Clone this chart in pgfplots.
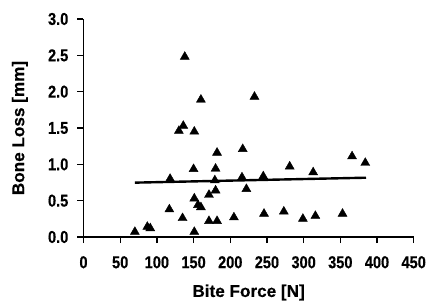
\documentclass[border=0pt]{standalone}
\usepackage{fontspec}
\setmainfont{Liberation Sans}[BoldFeatures={FakeBold=0.4}]
\newfontfamily\condfont{Liberation Sans}[FakeStretch=0.85, BoldFeatures={FakeBold=0.4}]
\usepackage{pgfplots}
\pgfplotsset{compat=1.18}
\begin{document}
\begin{tikzpicture}
\begin{axis}[name=ax, scale only axis, width=330.2bp, height=218bp,
  xmin=0, xmax=450, ymin=0, ymax=3,
  axis lines=left, axis line style={line width=1.8bp, -},
  xtick={0,50,...,450}, ytick={0,0.5,...,3},
  tick style={line width=1.3bp, black},
  major tick length=6bp, tick align=outside,
  /pgf/number format/assume math mode=true,
  yticklabel={\pgfmathprintnumber[fixed, fixed zerofill, precision=1]{\tick}},
  xticklabel style={font=\condfont\bfseries\fontsize{17.2}{17.2}\selectfont, anchor=north, inner sep=0pt, yshift=-13bp},
  yticklabel style={font=\condfont\bfseries\fontsize{17.2}{17.2}\selectfont, anchor=east, inner sep=0pt, xshift=-9bp},
  xlabel={Bite Force [N]}, ylabel={Bone Loss [mm]},
  xlabel style={font=\bfseries\fontsize{17.2}{17.2}\selectfont, at={(axis description cs:0.5,-0.217)}, anchor=north, inner sep=0pt},
  ylabel style={font=\bfseries\fontsize{17.2}{17.2}\selectfont, at={(axis description cs:-0.193,0.5)}, anchor=center, inner sep=0pt},
  clip=false]
\addplot[only marks, mark=triangle*, mark size=5.2bp, black] coordinates {
(70,0.07) (87,0.14) (91,0.12) (117,0.38) (118,0.80) (130,1.46) (135,0.26)
(136,1.53) (138,2.48) (150,0.935) (151,1.45) (151,0.53) (151,0.07) (156,0.44)
(160,0.41) (160,1.89) (171,0.58) (171,0.22) (180,0.64) (179,0.78) (180,0.94)
(182,0.22) (182,1.16) (205,0.27) (217,1.21) (216,0.82) (222,0.66) (233,1.93)
(245,0.835) (246,0.32) (273,0.35) (281,0.97) (299,0.25) (313,0.89) (316,0.29)
(353,0.32) (366,1.11) (384,1.02)
};
\addplot[black, line width=2.4bp] coordinates {(70,0.748) (385,0.816)};
\end{axis}
\pgfresetboundingbox
\path[use as bounding box] ([xshift=-83.5bp,yshift=-67bp]ax.south west) rectangle ([xshift=13.3bp,yshift=19bp]ax.north east);
\end{tikzpicture}
\end{document}
